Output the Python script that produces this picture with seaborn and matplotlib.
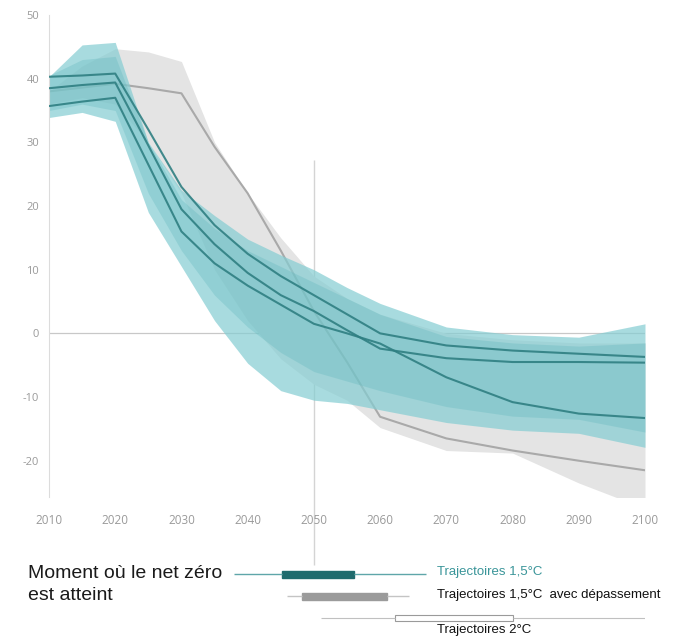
import matplotlib.pyplot as plt
import numpy as np
import pandas as pd
import seaborn as sns

# years sampled by the scenario database
years = [2010, 2015, 2020, 2025, 2030, 2035, 2040, 2045, 2050, 2055, 2060, 2070, 2080, 2090, 2100]

# range of the 1.5°C pathways (GtCO2/yr)
teal_upper = [40.3, 45.3, 45.7, 30.0, 22.5, 18.5, 14.8, 12.3, 10.0, 7.2, 4.7, 1.0, -0.2, -0.6, 1.5]
teal_lower = [33.9, 34.7, 33.3, 19.0, 10.5, 2.0, -4.7, -9.0, -10.5, -11.0, -12.0, -14.0, -15.2, -15.7, -17.9]
# denser core of the 1.5°C pathways
core_upper = [40.5, 43.0, 43.5, 30.0, 21.0, 16.5, 13.0, 10.5, 8.0, 5.5, 3.0, -0.5, -1.5, -2.0, -1.5]
core_lower = [35.0, 36.0, 35.0, 22.0, 13.0, 6.0, 1.0, -3.0, -6.0, -7.5, -9.0, -11.5, -13.0, -13.5, -15.5]

# range of the 2°C pathways
grey_upper = [38.0, 42.0, 44.7, 44.2, 42.7, 30.0, 22.0, 15.0, 9.0, 5.5, 3.0, 0.0, -1.0, -1.5, -1.5]
grey_lower = [36.0, 37.0, 36.0, 30.0, 22.0, 10.0, 2.0, -4.0, -8.0, -10.5, -14.8, -18.4, -18.8, -23.5, -27.5]

# illustrative pathways
path_a = [40.3, 40.5, 40.8, 32.0, 23.0, 17.0, 12.5, 9.0, 6.0, 3.0, 0.0, -1.9, -2.7, -3.2, -3.7]
path_b = [38.5, 39.0, 39.4, 29.5, 19.5, 14.0, 9.5, 6.0, 3.5, 0.5, -2.4, -3.9, -4.5, -4.5, -4.6]
path_c = [35.7, 36.4, 37.0, 26.5, 16.0, 11.0, 7.5, 4.5, 1.5, 0.0, -1.6, -6.9, -10.8, -12.6, -13.3]
path_2c = [38.0, 38.6, 39.2, 38.5, 37.7, 29.3, 22.0, 13.0, 3.5, -4.5, -13.1, -16.5, -18.4, -20.0, -21.5]

# year of net zero: min, q1, median, q3, max
nz_15 = [2037.9, 2045.2, 2050.5, 2056.0, 2067.0]
nz_15_os = [2045.9, 2048.2, 2055.0, 2061.1, 2064.3]
nz_2 = [2051.0, 2062.3, 2071.0, 2080.1, 2100.5]

W, H = 679, 638
fig = plt.figure(figsize=(W / 100, H / 100), dpi=100)
plt.rcParams["axes.unicode_minus"] = False
sns.set_style("white")
plt.rcParams["font.family"] = ["Open Sans", "DejaVu Sans"]

ax = fig.add_axes([49 / W, 1 - 497 / H, 596 / W, 482 / H])

# background guides
ax.axhline(0, color="#c8c8c8", lw=0.9, zorder=0)
ax.vlines(2050, -36.4, 27.2, color="#d4d4d4", lw=1, clip_on=False, zorder=0)

# bands
ax.fill_between(years, grey_lower, grey_upper, color="#e4e4e4", lw=0, zorder=1)
ax.plot(years, path_2c, color="#a9a9a9", lw=1.5, zorder=1.5)
ax.fill_between(years, teal_lower, teal_upper, color="#84cdd2", alpha=0.7, lw=0, zorder=2)
ax.fill_between(years, core_lower, core_upper, color="#5cb5bb", alpha=0.3, lw=0, zorder=2)

paths = pd.DataFrame({
    "year": years * 3,
    "value": path_a + path_b + path_c,
    "pathway": ["a"] * len(years) + ["b"] * len(years) + ["c"] * len(years),
})
sns.lineplot(data=paths, x="year", y="value", hue="pathway",
             palette={"a": "#2f7f82", "b": "#2f7f82", "c": "#2f7f82"},
             lw=1.5, alpha=0.9, legend=False, ax=ax, zorder=3)

ax.set_xlim(2010, 2100)
ax.set_ylim(-25.7, 50)
ax.set_xticks(range(2010, 2101, 10))
ax.set_yticks(range(-20, 51, 10))
ax.set_xlabel("")
ax.set_ylabel("")
for s in ["top", "right", "bottom"]:
    ax.spines[s].set_visible(False)
ax.spines["left"].set_color("#dcdcdc")
ax.tick_params(axis="y", length=4, width=0.8, color="#dcdcdc", labelcolor="#9a9a9a", labelsize=8, pad=3)
ax.tick_params(axis="x", direction="in", length=4, width=0.8, color="#dcdcdc", labelcolor="#9a9a9a", labelsize=8.5, pad=12)

# net zero timing strip
ax2 = fig.add_axes([49 / W, 0, 596 / W, 78 / H], sharex=ax)
box_kw = dict(orient="h", native_scale=True, whis=(0, 100), showcaps=False,
              saturation=1, ax=ax2)
sns.boxplot(x=nz_15, y=[574] * 5, width=7, color="#1f6b6d", linecolor="#1f6b6d", linewidth=1,
            whiskerprops={"color": "#5fa6a9"}, medianprops={"color": "#1f6b6d"}, **box_kw)
sns.boxplot(x=nz_15_os, y=[596] * 5, width=7, color="#9b9b9b", linecolor="#9b9b9b", linewidth=1,
            whiskerprops={"color": "#c4c4c4"}, medianprops={"color": "#9b9b9b"}, **box_kw)
sns.boxplot(x=nz_2, y=[618] * 5, width=6, color="white", linecolor="#9a9a9a", linewidth=0.8,
            whiskerprops={"color": "#c0c0c0"}, medianprops={"visible": False}, **box_kw)
ax2.set_ylim(638, 560)
ax.set_xlim(2010, 2100)
ax2.axis("off")

fig.text(28 / W, 1 - 578 / H, "Moment où le net zéro", fontsize=14, va="baseline",
         family="Liberation Sans", color="#1a1a1a")
fig.text(28 / W, 1 - 600 / H, "est atteint", fontsize=14, va="baseline",
         family="Liberation Sans", color="#1a1a1a")
fig.text(437 / W, 1 - 575 / H, "Trajectoires 1,5°C", fontsize=9.5, va="baseline",
         family="Liberation Sans", color="#3a9599")
fig.text(437 / W, 1 - 598 / H, "Trajectoires 1,5°C  avec dépassement", fontsize=9.5, va="baseline",
         family="Liberation Sans", color="#111111")
fig.text(437 / W, 1 - 633 / H, "Trajectoires 2°C", fontsize=9.5, va="baseline",
         family="Liberation Sans", color="#111111")

fig.savefig("out.png", dpi=100)
